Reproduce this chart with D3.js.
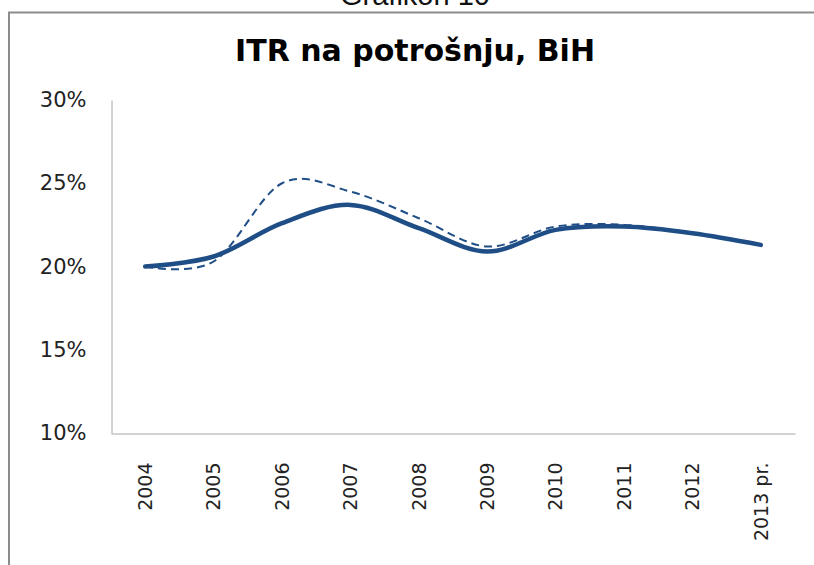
<!DOCTYPE html>
<html>
<head>
<meta charset="utf-8">
<title>ITR na potrošnju, BiH</title>
<style>
    body { margin: 0; background: white; }
    text { font-family: "DejaVu Sans", Verdana, sans-serif; }
</style>
</head>
<body>
<div id="chart"></div>
<script src="https://cdn.jsdelivr.net/npm/d3@7/dist/d3.min.js"></script>
<script>
    // data
    let years = ["2004", "2005", "2006", "2007", "2008", "2009", "2010", "2011", "2012", "2013 pr."]
    let itrSolid = [0.200, 0.206, 0.226, 0.237, 0.223, 0.209, 0.222, 0.224, 0.220, 0.213]
    let itrDashed = [0.200, 0.203, 0.250, 0.245, 0.229, 0.212, 0.224, 0.225, 0.220, 0.213]
    let yTicks = [0.10, 0.15, 0.20, 0.25, 0.30]

    let width = 814, height = 565
    let lineColor = "#1f4e86"

    let svg = d3.select("#chart")
        .append("svg")
        .attr("width", width)
        .attr("height", height)

    // caption above the frame, cut off at the top
    svg.append("text")
        .attr("x", 340)
        .attr("y", 5)
        .attr("font-size", 29)
        .style("font-family", "'Liberation Sans', Arial, sans-serif")
        .attr("fill", "#111")
        .text("Grafikon 10")

    // chart frame
    svg.append("rect")
        .attr("x", 9)
        .attr("y", 12.5)
        .attr("width", 900)
        .attr("height", 700)
        .attr("fill", "white")
        .attr("stroke", "#8c8c8c")
        .attr("stroke-width", 2)

    svg.append("text")
        .attr("x", 415)
        .attr("y", 61)
        .attr("text-anchor", "middle")
        .attr("font-size", 30)
        .attr("font-weight", "bold")
        .attr("fill", "#000")
        .text("ITR na potrošnju, BiH")

    let x = d3.scaleBand()
        .domain(years)
        .range([111, 795])

    let y = d3.scaleLinear()
        .domain([0.10, 0.30])
        .range([433, 100])

    // y axis
    let yAxis = svg.append("g")
        .attr("transform", "translate(111.5,0)")
        .call(d3.axisLeft(y).tickValues(yTicks).tickSize(0).tickPadding(25)
            .tickFormat(d3.format(".0%")))
    yAxis.select(".domain").attr("stroke", "#a6a6a6")
    yAxis.selectAll("text")
        .attr("font-size", 21)
        .attr("fill", "#222")
        .style("font-family", "'DejaVu Sans', Verdana, sans-serif")

    // x axis
    let xAxis = svg.append("g")
        .attr("transform", "translate(0,433.5)")
        .call(d3.axisBottom(x).tickSize(0))
    xAxis.select(".domain").attr("stroke", "#a6a6a6")
    xAxis.selectAll("text")
        .attr("font-size", 19)
        .attr("fill", "#222")
        .style("font-family", "'DejaVu Sans', Verdana, sans-serif")
        .attr("text-anchor", "end")
        .attr("transform", "rotate(-90)")
        .attr("x", -29)
        .attr("y", 0)
        .attr("dy", "0.36em")

    let line = d3.line()
        .x(function(d, i){ return x(years[i]) + x.bandwidth() / 2 })
        .y(function(d){ return y(d) })
        .curve(d3.curveCatmullRom.alpha(0))

    svg.append("path")
        .datum(itrDashed)
        .attr("d", line)
        .attr("fill", "none")
        .attr("stroke", lineColor)
        .attr("stroke-width", 2)
        .attr("stroke-dasharray", "8,5")

    svg.append("path")
        .datum(itrSolid)
        .attr("d", line)
        .attr("fill", "none")
        .attr("stroke", lineColor)
        .attr("stroke-width", 4.5)
        .attr("stroke-linecap", "round")
</script>
</body>
</html>
